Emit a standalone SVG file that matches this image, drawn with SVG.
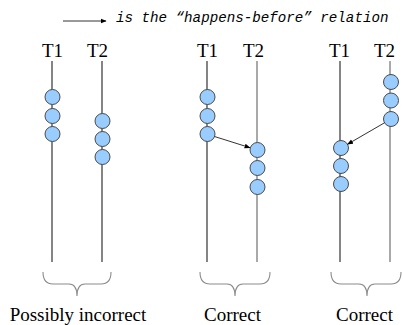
<svg xmlns="http://www.w3.org/2000/svg" width="403" height="325" viewBox="0 0 403 325">
<style>
.lbl{font-family:'Times New Roman','Liberation Serif','DejaVu Serif',serif;font-size:19px;fill:#000}
.leg{font-family:'Courier New','Liberation Mono','DejaVu Sans Mono',monospace;font-style:italic;font-size:14.2px;fill:#000}
.tl{stroke:#333;stroke-width:1.2;fill:none}
.tg{stroke:#8c8c8c;stroke-width:1.5;fill:none}
.ev{fill:#99CCFF;stroke:#4a4a4a;stroke-width:1}
.br{stroke:#8c8c8c;stroke-width:1.1;fill:none}
.hb{stroke:#333;stroke-width:1;fill:none;marker-end:url(#ah)}
</style>
<defs>
<marker id="ah" viewBox="0 0 10 10" refX="9" refY="5" markerWidth="6" markerHeight="6" orient="auto" markerUnits="userSpaceOnUse">
<path d="M0,1 L10,5 L0,9 z" fill="#000"/>
</marker>
</defs>
<g id="legend">
<line x1="63" y1="21" x2="106" y2="21" class="hb"/>
<text x="116" y="22" class="leg">is the “happens-before” relation</text>
</g>
<g id="group1">
<text x="42" y="57" class="lbl">T1</text>
<text x="87" y="57" class="lbl">T2</text>
<line x1="52" y1="61" x2="52" y2="262" class="tl"/>
<line x1="102" y1="61" x2="102" y2="262" class="tl"/>
<circle cx="52.5" cy="97" r="7.5" class="ev"/>
<circle cx="52.5" cy="116" r="7.5" class="ev"/>
<circle cx="52.5" cy="134" r="7.5" class="ev"/>
<circle cx="102.5" cy="121" r="7.5" class="ev"/>
<circle cx="102.5" cy="139" r="7.5" class="ev"/>
<circle cx="102.5" cy="157" r="7.5" class="ev"/>
<path d="M43,272 Q43,284 53,284 L69,284 Q77,284 77,296 Q77,284 85,284 L101,284 Q111,284 111,272" class="br"/>
<text x="78" y="321" class="lbl" text-anchor="middle">Possibly incorrect</text>
</g>
<g id="group2">
<text x="197" y="57" class="lbl">T1</text>
<text x="243" y="57" class="lbl">T2</text>
<line x1="207" y1="61" x2="207" y2="262" class="tl"/>
<line x1="257" y1="61" x2="257" y2="262" class="tg"/>
<circle cx="207.5" cy="97" r="7.5" class="ev"/>
<circle cx="207.5" cy="116" r="7.5" class="ev"/>
<circle cx="207.5" cy="134" r="7.5" class="ev"/>
<circle cx="257.5" cy="150" r="7.5" class="ev"/>
<circle cx="257.5" cy="168" r="7.5" class="ev"/>
<circle cx="257.5" cy="187" r="7.5" class="ev"/>
<path d="M200,272 Q200,284 210,284 L227,284 Q235,284 235,296 Q235,284 243,284 L260,284 Q270,284 270,272" class="br"/>
<text x="232.5" y="321" class="lbl" text-anchor="middle">Correct</text>
</g>
<g id="group3">
<text x="329" y="57" class="lbl">T1</text>
<text x="374" y="57" class="lbl">T2</text>
<line x1="340" y1="61" x2="340" y2="262" class="tl"/>
<line x1="390" y1="61" x2="390" y2="262" class="tg"/>
<circle cx="391" cy="82" r="7.5" class="ev"/>
<circle cx="391" cy="100.5" r="7.5" class="ev"/>
<circle cx="391" cy="119" r="7.5" class="ev"/>
<circle cx="341" cy="148" r="7.5" class="ev"/>
<circle cx="341" cy="166" r="7.5" class="ev"/>
<circle cx="341" cy="184" r="7.5" class="ev"/>
<path d="M331,272 Q331,284 341,284 L359,284 Q367,284 367,296 Q367,284 375,284 L391,284 Q401,284 401,272" class="br"/>
<text x="364.5" y="321" class="lbl" text-anchor="middle">Correct</text>
</g>
<g id="connectors">
<line x1="214.5" y1="136.5" x2="250" y2="147.7" class="hb"/>
<line x1="384.5" y1="122.8" x2="347.6" y2="144.2" class="hb"/>
</g>
</svg>
